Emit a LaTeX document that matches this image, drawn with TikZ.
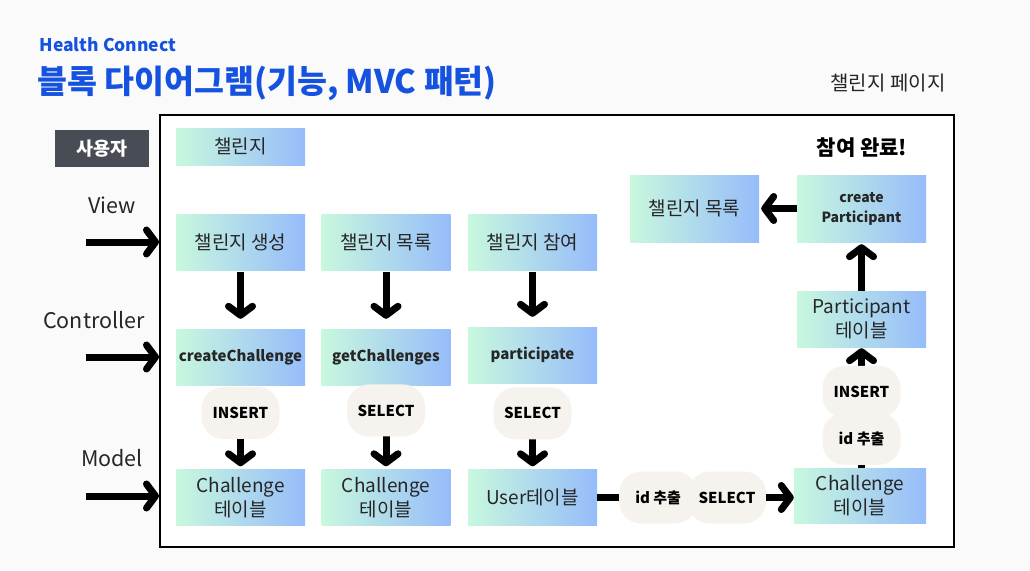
\documentclass[tikz,border=0pt]{standalone}
\usepackage{fontspec}
\setmainfont{Noto Sans CJK KR}
\usetikzlibrary{positioning, arrows.meta}
\definecolor{hcblue}{RGB}{22, 82, 224}
\definecolor{pagebg}{RGB}{250, 250, 250}
\definecolor{userbg}{RGB}{72, 76, 84}
\definecolor{gradl}{RGB}{200, 248, 222}
\definecolor{gradr}{RGB}{150, 188, 250}
\definecolor{pillbg}{RGB}{246, 242, 238}

\begin{document}
\begin{tikzpicture}[
    x=1pt, y=-1pt,
    gbox/.style={
        shading=axis,
        left color=gradl,
        right color=gradr,
        minimum width=129pt,
        minimum height=#1,
        inner sep=0pt,
        align=center,
        text=black!85,
        font=\fontsize{19}{24}\selectfont
    },
    gbox/.default=56pt,
    ctrlbox/.style={gbox, font=\bfseries\fontsize{15}{19}\selectfont},
    pillnode/.style={
        fill=pillbg,
        rounded corners=22pt,
        minimum width=78pt,
        minimum height=52pt,
        inner sep=0pt,
        font=\bfseries\fontsize{15}{18}\selectfont
    },
    layerlbl/.style={font=\fontsize{21.5}{24}\selectfont, text=black!85},
    flow/.style={line width=7pt, -{Straight Barb[length=9pt, width=24pt, round]}}
]

% === Page ===
\fill[pagebg] (0,0) rectangle (1030,570);
\node[anchor=west, text=hcblue, font=\bfseries\fontsize{17.5}{22}\selectfont] (hc) at (36,45) {Health Connect};
\node[anchor=west, text=hcblue, font=\bfseries\fontsize{32.5}{38}\selectfont] (title) at (34,83) {블록 다이어그램(기능, MVC 패턴)};
\node[font=\fontsize{20}{24}\selectfont, text=black!85] (pgname) at (888,83) {챌린지 페이지};
\node[draw, line width=2pt, fill=white, minimum width=794pt, minimum height=432pt, inner sep=0pt] (frame) at (557,331) {};

% === Layers ===
\node[fill=userbg, text=white, minimum width=94pt, minimum height=37pt, font=\bfseries\fontsize{18.5}{22}\selectfont] (user) at (102,148.5) {사용자};
\node[layerlbl] (view) at (112,205) {View};
\node[layerlbl] (ctrl) at (94,320) {Controller};
\node[layerlbl] (model) at (112,458) {Model};
\coordinate (vin) at (86,242);
\coordinate (cin) at (86,357);
\coordinate (min) at (86,496);
\draw[flow] (vin) -- (vin -| frame.west);
\draw[flow] (cin) -- (cin -| frame.west);
\draw[flow] (min) -- (min -| frame.west);

% === Columns ===
\node[gbox=37pt] (chal) at (240.5,146.5) {챌린지};

\node[gbox] (create) at (240.5,242) {챌린지 생성};
\node[gbox] (list) at (386,242) {챌린지 목록};
\node[gbox] (join) at (532.5,242) {챌린지 참여};

\node[ctrlbox] (cc) at (240.5,357) {createChallenge};
\node[ctrlbox] (gc) at (386,357) {getChallenges};
\node[ctrlbox] (pp) at (532.5,355) {participate};

\node[gbox] (ctab1) at (240.5,497.5) {Challenge\\테이블};
\node[gbox] (ctab2) at (386,497.5) {Challenge\\테이블};
\node[gbox] (utab) at (532.5,497.5) {User테이블};

% === Right side ===
\node[font=\bfseries\fontsize{21}{24}\selectfont] (done) at (862,148) {참여 완료!};
\node[gbox=67pt] (list2) at (694.5,208.5) {챌린지 목록};
\node[ctrlbox, minimum height=67pt, font=\bfseries\fontsize{14}{20}\selectfont] (cp) at (861.5,208.5) {create\\Participant};
\node[gbox] (ptab) at (861.5,319) {Participant\\테이블};
\node[gbox=55pt, minimum width=132pt] (ctab3) at (860,495.5) {Challenge\\테이블};

% === Arrows ===
\draw[flow, shorten <=2pt, shorten >=10pt] (create) -- (cc);
\draw[flow, shorten <=2pt, shorten >=10pt] (list) -- (gc);
\draw[flow, shorten <=2pt, shorten >=10pt] (join) -- (pp);
\draw[flow, shorten <=8pt, shorten >=3pt] (cc) -- (ctab1) node[pillnode, pos=0.33] {INSERT};
\draw[flow, shorten <=8pt, shorten >=3pt] (gc) -- (ctab2) node[pillnode, pos=0.3] {SELECT};
\draw[flow, shorten <=8pt, shorten >=3pt] (pp) -- (utab) node[pillnode, pos=0.35] {SELECT};
\draw[flow] (utab.east) -- (utab.east -| ctab3.west)
    node[pillnode, pos=0.31] {id 추출}
    node[pillnode, pos=0.66] {SELECT};
\draw[flow, shorten >=1pt] (ctab3.north -| ptab.south) -- (ptab.south)
    node[pillnode, pos=0.24] {id 추출}
    node[pillnode, pos=0.63] {INSERT};
\draw[flow, shorten >=2pt] (ptab) -- (cp);
\draw[flow, shorten >=2pt] (cp) -- (list2);

\end{tikzpicture}
\end{document}
